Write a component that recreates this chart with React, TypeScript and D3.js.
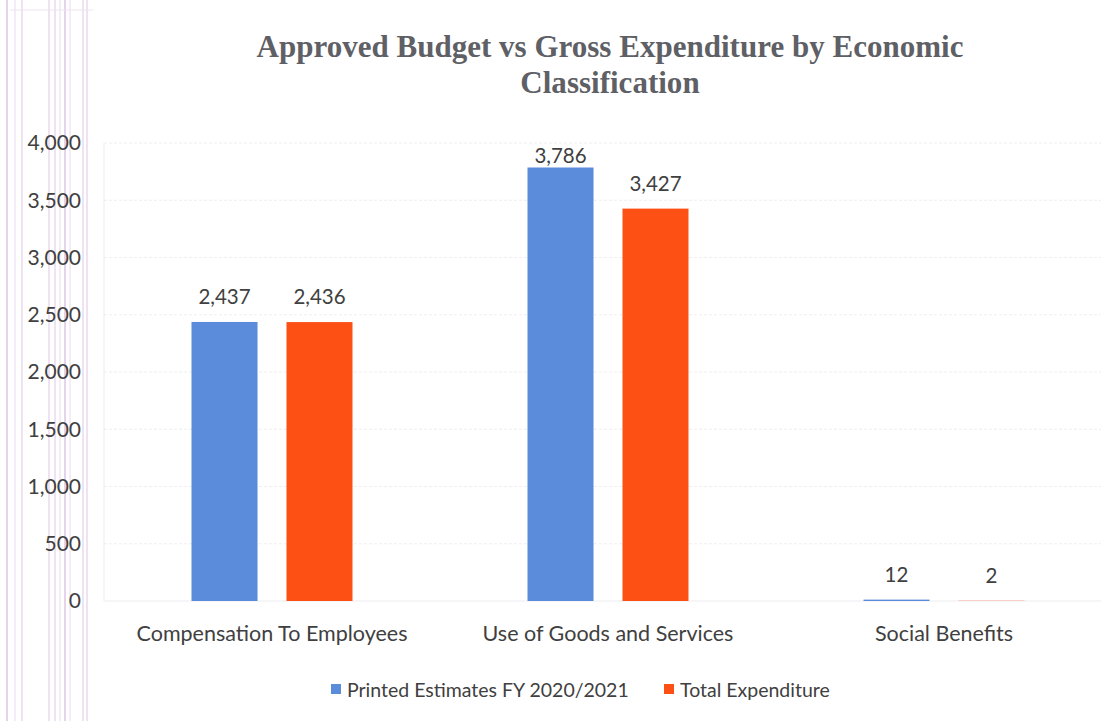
import React from "react";
import * as d3 from "d3";

const categories = ["Compensation To Employees", "Use of Goods and Services", "Social Benefits"];
const seriesNames = ["Printed Estimates FY 2020/2021", "Total Expenditure"];
const printedEstimates = [2437, 3786, 12];
const totalExpenditure = [2436, 3427, 2];
const yTicks = [0, 500, 1000, 1500, 2000, 2500, 3000, 3500, 4000];
const titleLines = ["Approved Budget vs Gross Expenditure by Economic", "Classification"];
const colors = ["#5b8bdb", "#fd5014"];

const W = 1101;
const H = 721;
const plot = { left: 104, right: 1112, top: 143, bottom: 601 };
const font = "Lato, 'Open Sans', sans-serif";
const textColor = "#404040";

export default function App() {
  const y = d3.scaleLinear().domain([0, 4000]).range([plot.bottom, plot.top]);
  const x0 = d3.scaleBand<string>().domain(categories).range([plot.left, plot.right]).padding(0);
  const x1 = d3.scaleBand<string>().domain(seriesNames).range([-80.5, 80.5]).paddingInner(0.305).paddingOuter(0);
  const seriesValues = [printedEstimates, totalExpenditure];
  const fmt = d3.format(",");

  const scanLines = [7, 15, 22, 49, 55, 60, 65, 70, 83, 87];

  return (
    <svg width={W} height={H} style={{ position: "absolute", left: 0, top: 0, background: "#fff" }}>
      <rect x={0} y={0} width={W} height={H} fill="#fff" />
      {scanLines.map((sx, i) => (
        <line key={i} x1={sx} x2={sx} y1={0} y2={H} stroke={i % 2 ? "#efe2f2" : "#e6d4ec"} strokeWidth={i % 3 === 0 ? 2 : 1.3} />
      ))}
      <line x1={10} x2={93} y1={10} y2={10} stroke="#ece4ee" strokeWidth={1} />
      {titleLines.map((t, i) => (
        <text
          key={i}
          x={610}
          y={57 + i * 36}
          textAnchor="middle"
          fontFamily="'Liberation Serif', 'DejaVu Serif', serif"
          fontWeight="bold"
          fontSize={32}
          fill="#5f5f66"
          transform={`translate(610,0) scale(0.97,1) translate(-610,0)`}
        >
          {t}
        </text>
      ))}
      {yTicks.map((t) => (
        <g key={t}>
          {t > 0 && (
            <line x1={plot.left} x2={W} y1={y(t)} y2={y(t)} stroke="#f0eef0" strokeWidth={1} strokeDasharray="3 2" />
          )}
          <text x={81} y={y(t)} dy="0.35em" textAnchor="end" fontFamily={font} fontSize={21} fill={textColor}>
            {fmt(t)}
          </text>
        </g>
      ))}
      <line x1={plot.left} x2={plot.left} y1={plot.top} y2={plot.bottom} stroke="#ecebee" strokeWidth={1} />
      <line x1={plot.left} x2={W} y1={plot.bottom} y2={plot.bottom} stroke="#eeecef" strokeWidth={1} />
      {categories.map((c, ci) => {
        const cx = (x0(c) ?? 0) + x0.bandwidth() / 2;
        return (
          <g key={c}>
            {seriesNames.map((s, si) => {
              const v = seriesValues[si][ci];
              const bx = cx + (x1(s) ?? 0);
              return (
                <g key={s}>
                  <rect x={bx} y={y(v)} width={x1.bandwidth()} height={plot.bottom - y(v)} fill={colors[si]} />
                  <text
                    x={bx + x1.bandwidth() / 2}
                    y={Math.max(y(v) - 18, plot.top + 20)}
                    textAnchor="middle"
                    fontFamily={font}
                    fontSize={20.5}
                    fill={textColor}
                  >
                    {fmt(v)}
                  </text>
                </g>
              );
            })}
            <text x={cx} y={641} textAnchor="middle" fontFamily={font} fontSize={21.5} fill={textColor}>
              {c}
            </text>
          </g>
        );
      })}
      {seriesNames.map((s, si) => {
        const lx = si === 0 ? 331 : 664;
        return (
          <g key={s}>
            <rect x={lx} y={684} width={10} height={10} fill={colors[si]} />
            <text x={lx + 16} y={697} fontFamily={font} fontSize={19.5} fill={textColor}>
              {s}
            </text>
          </g>
        );
      })}
    </svg>
  );
}
